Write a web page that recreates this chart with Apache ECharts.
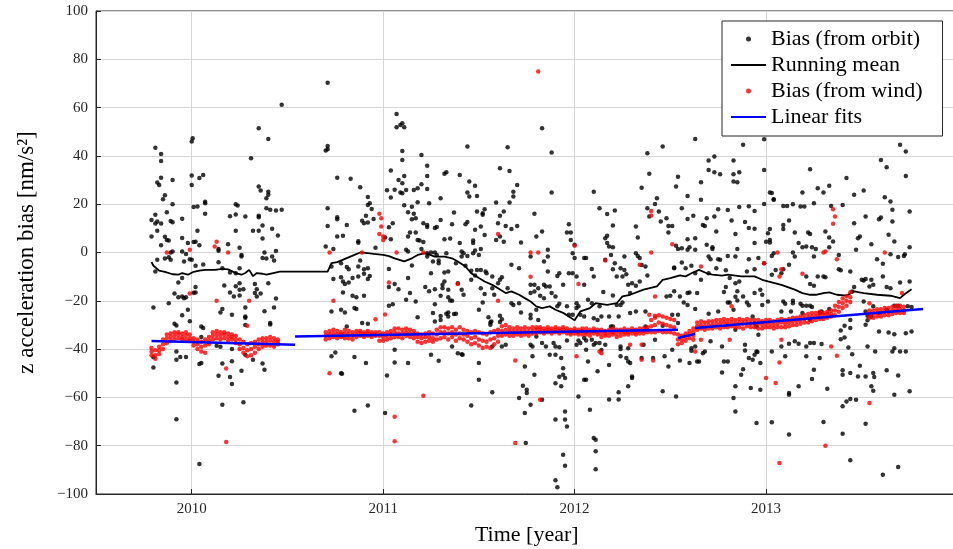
<!DOCTYPE html>
<html>
<head>
<meta charset="utf-8">
<script src="https://cdn.jsdelivr.net/npm/echarts@6/dist/echarts.min.js"></script>
<style>
  html, body { margin: 0; padding: 0; background: #fff; }
  #chart { width: 953px; height: 549px; }
</style>
</head>
<body>
<div id="chart"></div>
<script>
// tick positions
const xTicks = [2010, 2011, 2012, 2013]

// bias from orbit, [time, value]
const orbitBias = [
  [2010.005,47.3],[2010.00,46],[2009.81,43.4],[2009.84,40.8],[2009.84,37.9],[2010.00,31.9],[2010.06,32.1],[2010.04,30.8],[2010.00,28],[2009.84,31],[2009.82,29],[2009.83,28],[2009.90,30],[2009.86,23.7],[2009.85,22],[2010.07,21],[2010.07,20.4],[2010.01,18.8],[2010.03,19],[2009.90,20],[2009.87,16.7],[2009.81,15.6],[2009.79,13.5],[2009.82,12.8],[2009.84,12],[2009.81,12],[2009.89,13],[2009.90,12.5],[2009.95,14],[2010.07,16],[2010.03,9],[2009.82,9],[2009.79,6.6],[2009.86,6.5],[2009.87,5.2],[2009.88,5],[2009.84,3],[2009.95,6],[2009.98,3.9],[2010.02,4.5],[2010.01,4.3],[2010.04,3],[2009.90,0.4],[2009.89,0],[2009.95,0.4],[2009.97,-0.6],[2009.99,-2.8],[2010.00,-3],[2009.82,-3],[2009.86,-2.5],[2009.88,-2],[2009.89,-3],[2009.96,-3.7],[2010.06,-5],[2010.02,-5.5],[2009.81,-7.9],[2009.93,-12.4],[2009.95,-10.6],[2010.02,-14.3],[2010.02,-16.6],[2010.01,-16.7],[2009.91,-17],[2009.93,-18.5],[2009.95,-18.2],[2009.96,-18.9],[2009.97,-18.5],[2009.88,-21],[2009.80,-22.8],[2009.98,-23.7],[2009.95,-26],[2009.99,-28.5],[2009.91,-29.5],[2009.92,-30.2],[2010.05,-30.6],[2010.06,-31.3],[2010.05,-35],[2009.92,-41],[2009.94,-43.3],[2009.92,-44.4],[2009.97,-43.3],[2009.80,-43.4],[2009.80,-47.6],[2010.05,-45.8],[2010.04,-46.2],[2009.92,-53.8],[2009.92,-69],[2010.04,-87.6],
  [2010.23,20],[2010.24,19.5],[2010.20,15],[2010.23,15.7],[2010.28,14.9],[2010.23,9],[2010.19,3.4],[2010.14,1.5],[2010.14,0.7],[2010.25,2],[2010.26,-1],[2010.26,-1.7],[2010.14,-4],[2010.16,-6.5],[2010.20,-8.3],[2010.23,-8.6],[2010.25,-6.5],[2010.17,-13.7],[2010.20,-16.6],[2010.23,-14],[2010.25,-12.7],[2010.25,-15.4],[2010.22,-18.2],[2010.25,-17.8],[2010.27,-15.2],[2010.16,-23.4],[2010.15,-24.8],[2010.21,-25.8],[2010.28,-26.5],[2010.28,-30],[2010.15,-39],[2010.13,-38.6],[2010.21,-40],[2010.16,-46],[2010.21,-45],[2010.26,-49],[2010.14,-51],[2010.20,-51.6],[2010.21,-54.5],[2010.16,-63],[2010.27,-62],
  [2010.71,70.3],[2010.47,61.2],[2010.71,44.1],[2010.71,42.8],[2010.70,42.2],[2010.35,51.4],[2010.40,47],[2010.31,39],[2010.76,31],[2010.83,30.5],[2010.88,27],[2010.35,27.3],[2010.36,25.7],[2010.40,25.2],[2010.40,23.9],[2010.39,22.5],[2010.39,18.3],[2010.41,17.7],[2010.44,17.4],[2010.47,17.7],[2010.35,15.2],[2010.35,14.6],[2010.37,11.2],[2010.32,9],[2010.35,9],[2010.37,5.8],[2010.42,9.8],[2010.45,7],[2010.71,18.3],[2010.71,11],[2010.76,14.6],[2010.76,13.8],[2010.76,6.6],[2010.79,6.9],[2010.81,11.4],[2010.89,13.1],[2010.90,12.1],[2010.91,15.2],[2010.92,12.4],[2010.93,20.4],[2010.92,19.7],[2010.95,13.9],[2010.94,18],[2010.92,23],[2010.87,4.7],[2010.87,4],[2010.70,2.5],[2010.74,1.4],[2010.96,2],[2010.38,0],[2010.39,-2.5],[2010.42,-1.7],[2010.44,0.6],[2010.43,-3.3],[2010.37,-2.3],[2010.73,-5.8],[2010.78,-4.4],[2010.81,-6],[2010.82,-6.9],[2010.87,-5.8],[2010.90,-6.9],[2010.92,-6.5],[2010.93,-9.7],[2010.88,-3.3],[2010.74,-11],[2010.78,-10.3],[2010.79,-12],[2010.80,-13],[2010.82,-12.4],[2010.84,-10.6],[2010.87,-9.9],[2010.90,-8.8],[2010.92,-11],[2010.33,-13],[2010.34,-15.2],[2010.33,-16.8],[2010.36,-17],[2010.40,-12.7],[2010.34,-18.2],[2010.44,-19],[2010.43,-22.8],[2010.38,-24.3],[2010.28,-22.8],[2010.28,-27],[2010.41,-29.2],[2010.41,-29.8],[2010.79,-16.6],[2010.84,-17.9],[2010.86,-18.5],[2010.90,-17.9],[2010.73,-24.4],[2010.78,-23.7],[2010.80,-24.8],[2010.85,-23],[2010.86,-23.4],[2010.89,-29.2],[2010.92,-29.5],[2010.81,-30.6],[2010.32,-44.4],[2010.38,-48.6],[2010.37,-46],[2010.28,-42.3],[2010.73,-43],[2010.75,-41.4],[2010.85,-43.3],[2010.91,-45.8],[2010.78,-50],[2010.785,-50.2],[2010.85,-65.5],[2010.92,-63.4],
  [2011.07,57.4],[2011.07,51.9],[2011.09,52.8],[2011.10,53.5],[2011.11,51.9],[2011.10,42],[2011.10,38.3],[2011.20,40.4],[2011.04,34],[2011.08,30],[2011.11,31.7],[2011.10,28.7],[2011.06,26],[2011.02,25.8],[2011.04,22.8],[2011.09,24.8],[2011.10,24.5],[2011.12,25.9],[2011.16,25.9],[2011.18,26.6],[2011.20,28.3],[2011.23,26.3],[2011.23,35.9],[2011.23,31.7],[2011.33,33.2],[2011.32,32.6],[2011.40,32.1],[2011.44,43.9],[2011.45,29.4],[2011.48,27.6],[2011.44,24.8],[2011.45,23.2],[2011.49,23.4],[2011.61,34.9],[2011.65,43.6],[2011.66,33.7],[2011.70,28],[2011.68,25.2],[2011.68,23.2],[2011.66,20.7],[2011.59,20.7],[2011.63,17],[2011.61,15.2],
  [2011.11,19.6],[2011.15,18.9],[2011.18,20.8],[2011.24,20.4],[2011.30,22.5],[2011.13,16.7],[2011.16,16],[2011.17,14.2],[2011.15,13.8],[2011.21,12.1],[2011.23,11.4],[2011.30,13.5],[2011.27,10.1],[2011.28,10.6],[2011.23,10.6],[2011.37,16.6],[2011.36,11.7],[2011.14,8.3],[2011.13,6.6],[2011.17,8.3],[2011.19,5],[2011.21,4.3],[2011.20,1.4],[2011.18,5.2],[2011.12,1.1],[2011.13,0.4],[2011.01,6.2],[2011.04,5.5],[2011.05,12.1],[2011.03,10.5],[2011.32,5.5],[2011.35,5.8],[2011.40,3.9],[2011.44,12.6],[2011.43,11.7],[2011.47,5],[2011.47,3.9],[2011.48,9.4],[2011.52,16.3],[2011.53,17.9],[2011.52,15.6],[2011.51,10.8],[2011.53,7.2],[2011.49,17],[2011.51,1.4],[2011.48,0.8],[2011.50,-1],[2011.47,-0.3],[2011.44,-1.4],[2011.42,-0.3],[2011.41,0.4],[2011.41,-1.7],[2011.23,-0.3],[2011.25,0],[2011.27,0],[2011.28,-1],[2011.23,-1.7],[2011.29,-3.3],[2011.29,-4.4],[2011.26,-3.7],[2011.33,-0.3],[2011.60,12.1],[2011.64,11],[2011.67,9.7],[2011.70,11],[2011.72,4.1],[2011.61,6.6],[2011.59,5.2],[2011.63,4.5],
  [2011.03,-6.8],[2011.13,-10.6],[2011.15,-5.4],[2011.25,-8.6],[2011.32,-8.3],[2011.34,-7.9],[2011.38,-4.4],[2011.43,-5.5],[2011.46,-7.6],[2011.48,-9.5],[2011.49,-7.2],[2011.51,-7.2],[2011.54,-8.6],[2011.535,-7.9],[2011.57,-9.9],[2011.62,-10.3],[2011.61,-11.3],[2011.67,-5.1],[2011.71,-6.5],[2011.77,-1.7],[2011.03,-14.3],[2011.06,-13],[2011.08,-15.2],[2011.14,-16.8],[2011.22,-14.3],[2011.24,-16],[2011.27,-15.2],[2011.31,-14.8],[2011.31,-13.4],[2011.32,-12],[2011.34,-15.4],[2011.39,-12.7],[2011.41,-15.4],[2011.42,-17.5],[2011.46,-11.3],[2011.51,-14.8],[2011.53,-17.2],[2011.57,-14.8],[2011.58,-17.5],[2011.60,-12.7],[2011.65,-14.8],[2011.67,-21],[2011.68,-21.7],[2011.71,-21],[2011.77,-13.4],
  [2011.03,-22],[2011.05,-21.4],[2011.12,-19.6],[2011.17,-20.3],[2011.27,-21.4],[2011.30,-17.9],[2011.34,-18.5],[2011.35,-19.9],[2011.36,-20],[2011.33,-25.4],[2011.34,-26.5],[2011.34,-24.8],[2011.37,-25.5],[2011.38,-25.4],[2011.26,-25.1],[2011.18,-26.8],[2011.27,-28.6],[2011.30,-27.9],[2011.30,-26.3],[2011.50,-23.7],[2011.52,-20.7],[2011.55,-26.8],[2011.56,-29.9],[2011.56,-29],[2011.565,-28.6],[2011.61,-26.2],[2011.62,-27.6],[2011.61,-28.8],[2011.72,-24.8],[2011.77,-25.8],[2011.77,-27.2],
  [2011.02,-50.9],[2011.06,-40.3],[2011.06,-45.5],[2011.13,-45.8],[2011.25,-42.3],[2011.29,-44.8],[2011.36,-38.9],[2011.39,-41.7],[2011.41,-42.1],[2011.415,-42.3],[2011.50,-45.8],[2011.57,-38.9],[2011.62,-38.9],[2011.64,-38.2],[2011.01,-66.5],[2011.46,-63.4],[2011.50,-52.7],[2011.57,-57.9],[2011.71,-60.3],[2011.73,-55.2],[2011.75,-56.8],[2011.75,-58.2],[2011.77,-63],[2011.78,-43],[2011.79,-50.6],[2011.74,-66.5],[2011.74,-47.2],[2011.745,-78.9],
  [2011.83,51.4],[2011.88,41.4],[2011.88,24.8],[2012.10,25.2],[2011.79,16],[2011.80,6.6],[2011.83,8.7],[2011.97,11.7],[2011.96,8.3],[2011.98,8.3],[2011.98,5.2],[2012.00,3.2],[2011.99,-0.3],[2012.00,-2.3],[2011.86,1.1],[2011.86,-1.7],[2011.84,-3.7],[2011.86,-7.9],[2011.92,-8.6],[2011.91,-9.7],[2011.94,-13.4],[2011.97,-8.6],[2011.99,-8.6],[2012.01,-9.9],[2012.05,-2.3],[2012.06,-2.3],[2012.05,-13.4],[2012.09,-6.8],[2012.10,-9.9],[2011.79,-13.4],[2011.81,-14.8],[2011.84,-13.4],[2011.85,-14.1],[2011.87,-14.1],[2011.88,-16.8],[2011.77,-16.8],[2011.79,-16.1],[2011.82,-17.9],[2011.84,-18.9],[2011.90,-18.2],[2011.91,-22.3],[2011.92,-21.2],[2011.96,-22.3],[2011.97,-25.8],[2011.99,-25.8],[2012.01,-21],[2012.02,-22.3],[2012.01,-23],[2012.07,-19.6],[2012.09,-21],[2012.13,-22.3],[2012.15,-16.4],[2012.20,-17.8],[2012.14,-26.5],[2012.10,-27.2],[2012.12,-27.9],[2012.03,-25.8],[2012.05,-26.5],[2011.80,-23.7],[2011.81,-27.9],[2011.80,-34.8],[2011.78,-38.9],[2011.77,-38.2],
  [2011.83,-37.5],[2011.85,-38.9],[2011.89,-37.5],[2011.90,-38.9],[2011.92,-39.2],[2011.87,-42.3],[2011.90,-42.3],[2011.93,-43.7],[2011.94,-47.9],[2011.92,-51.4],[2011.90,-54.1],[2011.93,-55.4],[2011.94,-50.6],[2011.95,-52],[2011.96,-36.4],[2012.01,-38.2],[2012.02,-36.4],[2012.03,-37.5],[2012.05,-35.4],[2012.06,-36.4],[2012.09,-36.1],[2012.06,-40.3],[2012.07,-45.1],[2012.05,-52.7],[2012.06,-52.7],[2012.02,-59.6],[2012.12,-49.2],[2012.13,-37.5],[2012.10,-38.2],[2012.11,-37.5],[2012.16,-38.2],[2012.18,-46.6],[2012.14,-40.4],[2012.19,-30.6],[2012.20,-30.6],[2011.83,-61],[2011.90,-69.2],[2011.95,-65.8],[2011.95,-69.2],[2011.96,-72],[2011.94,-83.7],[2011.95,-88.3],[2011.90,-94.3],[2011.91,-97.2],[2012.08,-65.1],[2012.10,-76.8],[2012.11,-77.5],[2012.11,-82.3],[2012.11,-89.7],
  [2012.13,18.3],[2012.17,15.9],[2012.21,17.4],[2012.20,11.2],[2012.16,5.9],[2012.17,6.9],[2012.17,3.9],[2012.18,2.5],[2012.20,2.2],[2012.19,-1],[2012.16,-3],[2012.21,-4.4],[2012.22,-9.9],[2012.20,-6.9],[2012.24,-6.5],[2012.26,-1.7],[2012.26,-7.2],[2012.27,-9],[2012.25,-9.9],[2012.32,10.8],[2012.33,6.2],[2012.32,-0.3],[2012.33,-1.4],[2012.34,-2.3],[2012.35,-5.2],[2012.37,-5.8],[2012.38,-9.5],[2012.28,-13.4],[2012.32,-13.8],[2012.34,-12],[2012.30,-12.7],[2012.29,-16.8],[2012.29,-25.1],[2012.32,-24.4],[2012.37,-24.4],[2012.22,-21.7],[2012.24,-21.7],[2012.25,-20.7],[2012.23,-26.5],[2012.18,-26.5],
  [2012.24,-38.9],[2012.24,-40],[2012.28,-39.6],[2012.24,-43],[2012.27,-43.7],[2012.28,-45.1],[2012.29,-45.8],[2012.30,-51.3],[2012.30,-52],[2012.28,-55.4],[2012.23,-57.9],[2012.23,-60.9],[2012.18,-60.9],[2012.35,26.8],[2012.38,41.1],[2012.39,32.6],[2012.38,18.3],[2012.39,14.9],[2012.42,20.1],[2012.43,22.5],[2012.44,17],[2012.46,43.9],[2012.45,12.8],[2012.48,14.2],[2012.49,11],[2012.49,8.3],[2012.51,11],[2012.53,27.3],[2012.54,31.4],[2012.53,2.8],[2012.52,-6.2],[2012.50,-17.9],[2012.48,-18.2],[2012.54,-25.8],[2012.51,-25.8],[2012.54,-29.2],[2012.46,-30.3],[2012.42,-36.1],[2012.47,-43],[2012.49,-47.2],[2012.51,-40.3],[2012.53,-59.6],[2012.46,-57.5],[2012.41,-43.7],[2012.37,-30.6],[2012.35,-43.7],[2012.36,-38.2],
  [2012.63,47],[2012.88,44.6],[2012.99,46.9],[2012.73,39.7],[2012.70,38.1],[2012.83,38.1],[2012.70,34.2],[2012.73,33.2],[2012.76,32.4],[2012.86,33.2],[2012.83,32.4],[2012.83,29.4],[2012.85,29.1],[2012.66,29.1],[2012.59,23.4],[2012.66,21.8],[2012.99,34.2],[2012.56,18.3],[2012.62,15.2],[2012.59,13.9],[2012.69,14.2],[2012.73,14.9],[2012.67,11.4],[2012.68,11],[2012.75,17.9],[2012.80,17.6],[2012.82,13.2],[2012.86,18.8],[2012.89,12.6],[2012.91,10.1],[2012.94,9.8],[2012.91,19.2],[2012.94,17.2],[2012.84,7.7],[2012.74,8.7],[2012.63,5.9],[2012.59,5.5],[2012.60,2.2],[2012.59,1.1],[2012.63,1.1],[2012.56,1.8],[2012.54,1.4],
  [2012.72,2.2],[2012.72,1.4],[2012.69,3.2],[2012.70,-1.7],[2012.71,-2.8],[2012.75,-2.8],[2012.76,-3],[2012.80,-1.4],[2012.84,-1.7],[2012.85,1.4],[2012.94,3.9],[2012.99,20.1],[2013.01,8],[2013.02,5.2],[2013.02,4.1],[2013.04,-0.3],[2013.03,-1.4],[2012.99,-4.4],[2012.96,-2.3],[2012.91,-2.8],[2013.02,9.7],[2013.03,24.6],[2013.04,21.8],[2013.00,4.5],
  [2012.52,-6.5],[2012.56,-4.1],[2012.58,-6.5],[2012.61,-5.5],[2012.63,-8.6],[2012.66,-11.3],[2012.70,-8.6],[2012.74,-6.5],[2012.79,-7.4],[2012.81,-10.6],[2012.84,-12.7],[2012.86,-12],[2012.88,-18.2],[2012.94,-16.8],[2012.97,-15.4],[2012.98,-17.5],[2013.03,-9.2],[2013.05,-7.2],[2012.94,-6.9],[2012.90,-7.9],[2012.79,-14.3],[2012.78,-16.4],[2012.84,-18.3],[2012.85,-19.9],[2012.85,-16],[2012.80,-20.7],[2012.90,-20.7],[2012.91,-21.8],[2012.64,-16.8],[2012.59,-16.8],[2012.57,-20.7],[2012.60,-16.6],[2012.55,-18.2],[2012.52,-16],[2012.98,-21.7],[2013.01,-20.3],
  [2012.63,-23.4],[2012.59,-21.7],[2012.70,-25.4],[2012.75,-24.4],[2012.81,-20.7],[2012.83,-23.7],[2012.84,-32],[2012.93,-26.5],[2012.94,-29.2],[2012.95,-30.6],[2012.96,-34.1],[2012.61,-39.6],[2012.61,-40.7],[2012.63,-38.9],[2012.65,-45.1],[2012.67,-41.7],[2012.68,-41],[2012.71,-36.8],[2012.77,-38.9],[2012.78,-45.1],[2012.80,-45.1],[2012.89,-38.2],[2012.89,-40.6],[2012.94,-42.3],[2012.95,-41],[2012.955,-41.2],[2012.91,-43.7],[2012.93,-44.4],[2012.97,-45.8],[2013.03,-41],[2013.08,-38.9],[2013.10,-43],
  [2012.55,-44.7],[2012.60,-45.8],[2012.64,-45.1],[2012.77,-49.7],[2012.87,-50.6],[2012.88,-48.3],[2012.84,-55.4],[2012.92,-56.1],[2012.97,-56.8],[2012.83,-60.3],[2012.84,-65.8],[2012.95,-70.6],[2013.03,-70.3],[2013.12,-58.2],[2013.12,-58.9],[2013.17,-55.4],[2013.24,-52.4],[2013.25,-48.6],[2013.12,-75.4],
  [2013.02,24.8],[2013.04,22.1],[2013.09,19.3],[2013.11,19.3],[2013.14,20],[2013.18,19],[2013.19,24.8],[2013.23,34.5],[2013.20,19],[2013.25,20.4],[2013.09,11.4],[2013.09,9.7],[2013.12,13.2],[2013.15,8.3],[2013.17,3.9],[2013.19,2.2],[2013.21,2.5],[2013.22,8.3],[2013.24,2.2],[2013.25,-1.7],[2013.23,-13],[2013.21,-9.9],[2013.15,-1.7],[2013.14,0],[2013.12,-5.1],[2013.09,-6.9],[2013.08,-8.6],[2013.09,-20.3],[2013.10,-21.2],[2013.14,-20],[2013.14,-21],[2013.18,-21.2],[2013.19,-22.1],[2013.21,-22.1],[2013.19,-25.1],[2013.13,-24.4],[2013.08,-24.4],[2013.12,-37.8],[2013.15,-36.8],[2013.17,-37.8],[2013.21,-38.9],[2013.21,-43],
  [2013.70,44.6],[2013.73,41.8],[2013.60,38.3],[2013.63,35.3],[2013.73,31.7],[2013.42,30.8],[2013.33,27.6],[2013.27,26.6],[2013.30,24.8],[2013.46,23.9],[2013.51,25.7],[2013.34,19.3],[2013.40,19.7],[2013.62,22.9],[2013.65,21.1],[2013.66,17.7],[2013.75,17],[2013.59,13.8],[2013.60,14.5],[2013.52,14.9],[2013.46,12.1],[2013.66,12.8],[2013.31,8.7],[2013.33,6.2],[2013.35,4.6],[2013.33,2.2],[2013.26,1.4],[2013.23,7.7],[2013.48,5.9],[2013.49,6.6],[2013.47,1.1],[2013.55,3.4],[2013.64,7.3],[2013.67,4.6],[2013.65,-0.7],[2013.69,-1.9],[2013.72,-1.4],[2013.725,-0.7],[2013.75,2.2],[2013.58,-2.8],[2013.61,-4.7],[2013.38,-1],
  [2013.38,-6.9],[2013.39,-7.4],[2013.44,-7.9],[2013.27,-9.9],[2013.30,-9.9],[2013.31,-10.2],[2013.25,-13.8],[2013.50,-11.3],[2013.51,-11.6],[2013.52,-11],[2013.55,-11.3],[2013.54,-14.1],[2013.61,-9.9],[2013.63,-14.3],[2013.65,-14.8],[2013.70,-12.4],[2013.75,-12],[2013.46,-14.3],[2013.45,-16.1],[2013.56,-13.4],[2013.23,-22],[2013.24,-22.6],[2013.29,-24.4],[2013.28,-25.1],[2013.33,-23.4],[2013.51,-20.3],[2013.52,-24.4],[2013.53,-26.2],[2013.53,-28.1],[2013.52,-29.9],[2013.56,-22.3],[2013.59,-25.1],[2013.63,-23.7],[2013.67,-22.1],[2013.69,-22.1],[2013.74,-22.3],[2013.76,-22.6],[2013.76,-32.7],[2013.64,-33.1],[2013.67,-33.8],[2013.73,-33.4],[2013.59,-32.7],[2013.55,-26.5],[2013.44,-27.9],[2013.41,-30.3],[2013.44,-31.3],[2013.39,-32.3],[2013.23,-27.9],
  [2013.23,-37.5],[2013.25,-37.5],[2013.29,-37.9],[2013.28,-43.7],[2013.39,-35.9],[2013.41,-35.2],[2013.43,-39.3],[2013.45,-42.1],[2013.57,-41],[2013.53,-38.9],[2013.66,-41],[2013.67,-39.6],[2013.70,-41],[2013.73,-41],[2013.49,-46.9],[2013.40,-48.8],[2013.40,-50.6],[2013.44,-49.9],[2013.48,-51.3],[2013.52,-51.3],[2013.56,-49.9],[2013.565,-51.6],[2013.55,-55.4],[2013.56,-57.2],[2013.63,-48.8],[2013.69,-50.9],[2013.32,-56.4],[2013.40,-63.7],[2013.42,-61.7],[2013.44,-60.7],[2013.47,-61],[2013.30,-70.2],[2013.40,-75],[2013.44,-86],[2013.52,-70.9],[2013.61,-92],[2013.69,-88.8],[2013.67,-58.9],[2013.75,-57.5]
]

// running mean of the orbit bias
const runningMean = [
  [2009.79,-4],[2009.80,-5.5],[2009.83,-7.5],[2009.86,-8],[2009.90,-9],[2009.93,-9.2],[2009.95,-8.5],[2009.98,-9.2],[2010.01,-8],[2010.04,-7.5],[2010.07,-7.2],[2010.12,-7.2],[2010.16,-6.8],[2010.19,-7],[2010.23,-8.5],[2010.26,-9.2],[2010.28,-8.5],[2010.30,-7.2],[2010.32,-9.8],[2010.34,-8.5],[2010.37,-8.8],[2010.39,-9.2],[2010.42,-8.6],[2010.46,-7.9],
  [2010.71,-7.9],[2010.73,-4.4],[2010.76,-4],[2010.81,-2.3],[2010.85,-1],[2010.88,0],[2010.92,-0.3],[2010.95,-0.6],[2011.00,-1],[2011.03,-1.5],[2011.06,-2.4],[2011.11,-3.7],[2011.15,-2.4],[2011.18,-1],[2011.22,-0.3],[2011.27,-1.7],[2011.32,-1.7],[2011.36,-2.4],[2011.39,-3.7],[2011.43,-5.8],[2011.46,-8.6],[2011.50,-10.6],[2011.53,-12],[2011.57,-13.4],[2011.60,-14.8],[2011.64,-16.8],[2011.67,-16.1],[2011.71,-17.5],[2011.74,-18.9],[2011.77,-20.3],[2011.80,-22.3],[2011.83,-23],[2011.87,-22.3],[2011.90,-23.7],[2011.94,-25],[2011.97,-26.5],[2012.00,-28.1],
  [2012.03,-24.4],[2012.08,-23],[2012.11,-21],[2012.17,-21.7],[2012.22,-21],[2012.25,-18.2],[2012.29,-17.5],[2012.36,-15.4],[2012.43,-14],[2012.46,-11.3],[2012.50,-10.6],[2012.55,-9.5],[2012.58,-9.9],[2012.61,-8.6],[2012.65,-7.2],[2012.69,-8.6],[2012.72,-9.2],[2012.77,-9.6],[2012.80,-9.2],[2012.87,-9.9],[2012.94,-9.9],[2012.98,-11.3],[2013.01,-12],[2013.08,-13.4],[2013.15,-15.4],[2013.19,-16.8],[2013.23,-17.5],[2013.26,-17.5],[2013.30,-16.8],[2013.33,-16.5],[2013.37,-17.5],[2013.42,-17.9],[2013.46,-16.1],[2013.51,-16.8],[2013.58,-17.5],[2013.65,-17.9],[2013.70,-18.9],[2013.72,-17.5],[2013.76,-15.2]
]

// bias from wind: dense band, each row = [time, v1, v2, v3]
const windBand = [
  [2009.79,-39.5,-41,-42.5],[2009.81,-40.5,-42.5,-44],[2009.83,-39,-40.5,-42],[2009.85,-36,-38,-40],[2009.87,-34,-35.5,-37.5],[2009.89,-33.5,-35,-36.5],[2009.91,-33,-34.5,-36],[2009.93,-33,-34,-35.5],[2009.95,-33.5,-35,-36],[2009.97,-33,-34.5,-36],[2009.99,-34,-35.5,-36.5],[2010.01,-35.5,-37,-38.5],[2010.03,-36,-38,-40],[2010.05,-37,-39,-41],[2010.07,-36,-38.5,-41.5],[2010.09,-35,-36.5,-38],[2010.11,-33,-34.5,-36],[2010.13,-32.5,-34,-35.5],[2010.15,-33,-34.5,-36],[2010.17,-33,-34,-35.5],[2010.19,-33.5,-35,-36.5],[2010.21,-34,-35,-36],[2010.23,-34.5,-36,-37.5],[2010.25,-36,-38,-40],[2010.27,-37,-39.5,-41.5],[2010.29,-38,-40.5,-43],[2010.31,-37.5,-40,-42.5],[2010.33,-37,-39,-41.5],[2010.35,-36,-38,-40],[2010.37,-35.5,-37,-39],[2010.39,-35.5,-37,-38.5],[2010.41,-35,-36.5,-38.5],[2010.43,-35.5,-37,-39],[2010.45,-36,-37,-38],
  [2010.70,-33,-34.5,-36],[2010.72,-32.5,-34,-35.5],[2010.74,-32,-33.5,-35],[2010.76,-32.5,-34,-35.5],[2010.78,-33,-34,-35],[2010.80,-32,-33.5,-35.5],[2010.82,-32.5,-34,-35.5],[2010.84,-33,-34.5,-36],[2010.86,-32.5,-34,-35],[2010.88,-32.5,-33.5,-34.5],[2010.90,-33,-34,-35],[2010.92,-32.5,-33.5,-34.5],[2010.94,-33,-34,-35],[2010.96,-33,-34,-34.5],[2010.98,-33,-34.5,-36.5],[2011.00,-33.5,-35,-36.5],[2011.02,-33,-34.5,-36],[2011.04,-32.5,-34,-35.5],[2011.06,-31.5,-33,-35],[2011.08,-31.5,-33.5,-35],[2011.10,-32,-33.5,-35.5],[2011.12,-31.5,-33,-34.5],[2011.14,-32,-33.5,-35],[2011.16,-32.5,-34,-35.5],[2011.18,-33.5,-35,-37],[2011.20,-34,-35.5,-37.5],[2011.22,-33.5,-35,-37],[2011.24,-33,-35,-36.5],[2011.26,-33.5,-35.5,-37],[2011.28,-32,-34,-36],[2011.30,-31,-33,-35.5],[2011.32,-31,-33,-35],[2011.34,-31.5,-33.5,-36],[2011.36,-31,-33,-35],[2011.38,-32,-34,-36.5],[2011.40,-31,-33.5,-35.5],[2011.42,-32,-34,-36],[2011.44,-32.5,-34.5,-37],[2011.46,-33,-35.5,-38],[2011.48,-32.5,-35,-37.5],[2011.50,-33,-36,-38.5],[2011.52,-33.5,-36.5,-39.5],[2011.54,-34,-37,-39],[2011.56,-33,-36,-39.5],[2011.58,-32.5,-35.5,-38],[2011.60,-32,-34.5,-37],[2011.62,-30.5,-32.5,-34.5],[2011.64,-30,-32,-34],[2011.66,-31,-32.5,-34.5],[2011.68,-31.5,-33,-34.5],[2011.70,-31,-32.5,-34],[2011.72,-31.5,-33,-34.5],[2011.74,-31,-32.5,-34],[2011.76,-31.5,-33,-34.5],[2011.78,-31,-32.5,-33.5],[2011.80,-31,-32,-33.5],[2011.82,-31,-32,-33],[2011.84,-31.5,-32.5,-33.5],[2011.86,-31,-32,-33],[2011.88,-31.5,-32.5,-33.5],[2011.90,-31,-32,-33],[2011.92,-31.5,-32.5,-33.5],[2011.94,-31,-32,-33],[2011.96,-31.5,-32.5,-33.5],[2011.98,-32,-33,-34],[2012.00,-31.5,-32.5,-33.5],[2012.02,-32,-33,-34],[2012.04,-31.5,-32.5,-34],[2012.06,-31.5,-33,-34],[2012.08,-32,-33,-34.5],[2012.10,-31.5,-32.5,-33.5],[2012.12,-32,-33,-34],[2012.14,-32,-33.5,-35],[2012.16,-32.5,-33.5,-34.5],[2012.18,-32,-33,-34.5],[2012.20,-31.5,-33,-34],[2012.22,-32,-33.5,-35],[2012.24,-32,-33,-34.5],[2012.26,-31.5,-33,-34],[2012.28,-32,-33,-34],[2012.30,-31.5,-32.5,-33.5],[2012.32,-32,-33,-34],[2012.34,-31.5,-32.5,-33.5],[2012.36,-31.5,-32.5,-33.5],[2012.38,-31,-32,-33],[2012.40,-28,-30.5,-33],[2012.42,-27,-30,-33],[2012.44,-26,-29,-32.5],[2012.46,-26.5,-29.5,-33],[2012.48,-27,-30,-33],[2012.50,-27.5,-30.5,-33],[2012.52,-28,-31,-33.5],
  [2012.54,-34,-36,-38],[2012.56,-34.5,-36,-37.5],[2012.58,-33.5,-35,-36.5],[2012.60,-32.5,-34,-35.5],[2012.62,-31.5,-33,-34.5],
  [2012.64,-29,-30.5,-32],[2012.66,-28.5,-30,-31.5],[2012.68,-29,-30.5,-32],[2012.70,-28.5,-30,-31.5],[2012.72,-28.5,-30,-31.5],[2012.74,-28,-29.5,-31],[2012.76,-28,-29.5,-31.5],[2012.78,-27.5,-29,-31],[2012.80,-28,-29.5,-31],[2012.82,-27.5,-29,-30.5],[2012.84,-28,-29.5,-31],[2012.86,-27.5,-29,-31],[2012.88,-28,-29.5,-31.5],[2012.90,-27.5,-29,-30.5],[2012.92,-28,-29.5,-31],[2012.94,-28,-29.5,-31],[2012.96,-28,-29.5,-31.5],[2012.98,-28.5,-30,-31.5],[2013.00,-28,-29.5,-31],[2013.02,-28,-29.5,-31],[2013.04,-28.5,-30,-31.5],[2013.06,-28,-29.5,-31],[2013.08,-27.5,-29,-31],[2013.10,-28,-29.5,-31],[2013.12,-27.5,-29,-30.5],[2013.14,-27,-28.5,-30],[2013.16,-27,-28.5,-30],[2013.18,-26.5,-28,-29.5],[2013.20,-26,-27.5,-29],[2013.22,-25.5,-27,-29],[2013.24,-25,-26.5,-28.5],[2013.26,-25,-26.5,-28],[2013.28,-24.5,-26,-27.5],[2013.30,-25,-26,-27.5],[2013.32,-24.5,-25.5,-27],[2013.34,-24,-25.5,-26.5],[2013.36,-22,-24,-26],[2013.38,-20.5,-22.5,-24.5],[2013.40,-19,-21,-23],[2013.42,-18,-20,-22],[2013.44,-16.5,-18.5,-20.5],
  [2013.54,-24,-25.5,-27],[2013.56,-24,-25.5,-27],[2013.58,-23.5,-25,-26.5],[2013.60,-23.5,-25,-26.5],[2013.62,-23,-24.5,-26],[2013.64,-23,-24.5,-26],[2013.66,-22.5,-24,-25.5],[2013.68,-22,-23.5,-25],[2013.70,-22,-23.5,-25],[2013.72,-22.5,-24,-25]
]

// bias from wind: scattered points away from the band
const windOutliers = [
  [2009.87,0],[2009.99,1.1],[2010.13,4.5],[2010.12,2.5],[2010.19,0],[2009.99,-17],[2010.13,-20],[2010.18,-48],[2010.18,-78.5],[2010.30,-20],[2010.29,-30.3],[2010.72,0],[2010.74,-20],[2010.72,-50],[2010.89,0],[2010.98,16],[2010.99,14.2],[2010.99,10.8],[2010.98,7.7],[2011.00,6.6],[2011.00,5.2],[2010.96,-27.6],[2011.01,-25.7],[2011.03,-12.4],[2011.07,0],[2011.21,0],[2011.39,-13],[2011.60,7.7],[2011.60,-20],[2011.77,0],[2011.77,-10],[2011.21,-59.3],[2011.06,-68],[2011.06,-78.2],[2011.69,-44.7],[2011.69,-78.9],[2011.81,74.9],[2011.81,0],[2012.00,2.8],[2012.02,-13],[2012.16,-3.3],[2012.34,-5.1],[2012.40,17.2],[2012.40,15.3],[2012.40,0],[2012.51,3.4],[2012.42,-18.2],[2012.39,-25.8],[2012.42,-26.2],[2012.01,-43],[2012.13,-41],[2012.14,-41.7],[2012.35,-38.2],[2012.41,-44.7],[2011.82,-61],[2012.66,-5.8],[2012.99,-4.4],[2013.06,0],[2013.08,-6.9],[2013.07,-9.9],[2013.19,-8.8],[2012.82,-22.3],[2012.62,-36.1],[2012.66,-36.1],[2012.81,-36.1],[2012.63,-41],[2013.08,-36.1],[2013.07,-45.5],[2013.00,-52],[2013.05,-54],[2013.07,-87.2],[2013.35,17.9],[2013.36,14.9],[2013.35,11.9],[2013.31,0.4],[2013.30,0],[2013.37,-2.8],[2013.62,0],[2013.54,-21],[2013.71,-16.8],[2013.34,-38.9],[2013.37,-42.8],[2013.54,-62.3],[2013.31,-80],[2012.29,-38.2],[2012.35,-44.4]
]

// linear fit segments (end points)
const fit1 = [[2009.79,-36.6],[2010.54,-38.2]]
const fit2 = [[2010.54,-34.8],[2012.54,-32]]
const fit3 = [[2012.54,-35.4],[2012.63,-33.7]]
const fit4 = [[2012.63,-31.3],[2013.82,-23.4]]

const windBias = windBand
  .flatMap(r => r.slice(1).map(v => [r[0], v]))
  .concat(windOutliers)

const SERIF = 'Liberation Serif'
const AXIS_COLOR = '#262626'
const GRID_COLOR = '#d6d6d6'
const NO_FILL = 'rgba(0,0,0,0)'

const chart = echarts.init(document.getElementById('chart'), null, { renderer: 'canvas' })

const fitSeries = [fit1, fit2, fit3, fit4].map(seg => ({
  name: 'Linear fits',
  type: 'line',
  data: seg,
  symbol: 'none',
  lineStyle: { color: '#0000ff', width: 2.5 },
  itemStyle: { color: NO_FILL },
  z: 5,
  silent: true,
}))

const option = {
  backgroundColor: '#fff',
  animation: false,
  grid: {
    left: 96,
    top: 11,
    width: 861.5,
    height: 483,
    outerBoundsMode: 'none',
    show: true,
    borderColor: AXIS_COLOR,
    borderWidth: 1,
  },
  legend: {
    left: 722,
    top: 21,
    orient: 'vertical',
    padding: [7, 20, 8, 8],
    itemGap: 4,
    itemWidth: 35,
    itemHeight: 5,
    backgroundColor: '#fff',
    borderColor: AXIS_COLOR,
    borderWidth: 1,
    borderRadius: 0,
    selectedMode: false,
    textStyle: { fontFamily: SERIF, fontSize: 22, color: '#000' },
    data: [
      { name: 'Bias (from orbit)', icon: 'circle' },
      { name: 'Running mean' },
      { name: 'Bias (from wind)', icon: 'circle' },
      { name: 'Linear fits' },
    ],
  },
  xAxis: {
    type: 'value',
    min: 2009.5,
    max: 2014,
    name: 'Time [year]',
    nameLocation: 'middle',
    nameGap: 30,
    nameTextStyle: { fontFamily: SERIF, fontSize: 22, color: '#000' },
    axisLine: { show: true, onZero: false, lineStyle: { color: AXIS_COLOR } },
    axisTick: { show: true, inside: true, length: 5, customValues: xTicks, lineStyle: { color: AXIS_COLOR } },
    axisLabel: {
      customValues: xTicks,
      fontFamily: SERIF,
      fontSize: 15,
      color: '#262626',
      margin: 8,
      formatter: v => String(v),
    },
    splitLine: { show: true, lineStyle: { color: GRID_COLOR, width: 1 } },
  },
  yAxis: {
    type: 'value',
    min: -100,
    max: 100,
    interval: 20,
    name: 'z acceleration bias [nm/s²]',
    nameLocation: 'middle',
    nameGap: 58,
    nameTextStyle: { fontFamily: SERIF, fontSize: 23, color: '#000' },
    axisLine: { show: true, onZero: false, lineStyle: { color: AXIS_COLOR } },
    axisTick: { show: true, inside: true, length: 5, lineStyle: { color: AXIS_COLOR } },
    axisLabel: {
      fontFamily: SERIF,
      fontSize: 15,
      color: '#262626',
      margin: 8,
      formatter: v => (v < 0 ? '\u2212' + -v : String(v)),
    },
    splitLine: { show: true, lineStyle: { color: GRID_COLOR, width: 1 } },
  },
  series: [
    {
      name: 'Bias (from orbit)',
      type: 'scatter',
      data: orbitBias,
      symbolSize: 4.5,
      itemStyle: { color: '#000' },
      z: 2,
      silent: true,
    },
    {
      name: 'Running mean',
      type: 'line',
      data: runningMean,
      symbol: 'none',
      lineStyle: { color: '#000', width: 1.8 },
      itemStyle: { color: NO_FILL },
      z: 3,
      silent: true,
    },
    {
      name: 'Bias (from wind)',
      type: 'scatter',
      data: windBias,
      symbolSize: 4.5,
      itemStyle: { color: '#ff0000' },
      z: 4,
      silent: true,
    },
    ...fitSeries,
  ],
}

chart.setOption(option)
</script>
</body>
</html>
